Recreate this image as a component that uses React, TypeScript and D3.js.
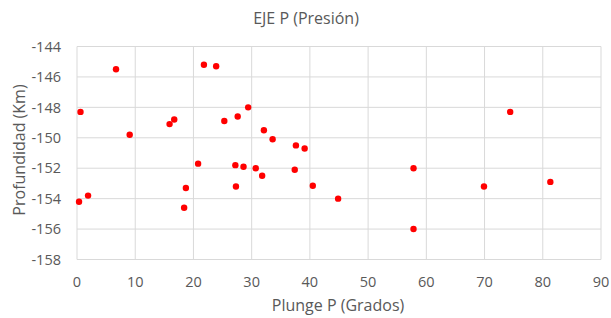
import React from "react";
import * as d3 from "d3";

const plunge = [0.6, 6.7, 9.05, 15.9, 16.7, 21.8, 23.9, 25.3, 27.6, 29.4, 32.1, 33.6, 37.6, 39.1, 74.4,
  0.35, 1.9, 18.4, 18.7, 20.8, 27.2, 27.3, 28.6, 30.7, 31.8, 37.4, 40.5, 44.85, 57.8, 57.8, 69.9, 81.3];
const depth = [-148.3, -145.5, -149.8, -149.1, -148.8, -145.2, -145.3, -148.9, -148.6, -148.0, -149.5, -150.1, -150.5, -150.7, -148.3,
  -154.2, -153.8, -154.6, -153.3, -151.7, -151.8, -153.2, -151.9, -152.0, -152.5, -152.1, -153.15, -154.0, -152.0, -156.0, -153.2, -152.9];
const xTicks = [0, 10, 20, 30, 40, 50, 60, 70, 80, 90];
const yTicks = [-144, -146, -148, -150, -152, -154, -156, -158];

const W = 611, H = 318;
const left = 77, right = 601, top = 46.5, bottom = 259.5;
const font = "'Open Sans', sans-serif";
const grey = "#595959";

export default function App() {
  const x = d3.scaleLinear().domain([0, 90]).range([left, right]);
  const y = d3.scaleLinear().domain([-158, -144]).range([bottom, top]);
  return (
    <svg width={W} height={H} style={{ position: "absolute", left: 0, top: 0, background: "#fff" }}>
      <rect width={W} height={H} fill="#fff" />
      {yTicks.map((t) => (
        <line key={"gy" + t} x1={left} x2={right} y1={y(t)} y2={y(t)} stroke="#d9d9d9" strokeWidth={1} />
      ))}
      {xTicks.map((t) => (
        <line key={"gx" + t} x1={x(t)} x2={x(t)} y1={top} y2={bottom} stroke="#d9d9d9" strokeWidth={1} />
      ))}
      {yTicks.map((t) => (
        <text key={"ty" + t} x={61} y={y(t)} dy="0.36em" textAnchor="end" fontFamily={font} fontSize={14.5} fill={grey}>
          {t}
        </text>
      ))}
      {xTicks.map((t) => (
        <text key={"tx" + t} x={x(t)} y={287} textAnchor="middle" fontFamily={font} fontSize={14.5} fill={grey}>
          {t}
        </text>
      ))}
      {plunge.map((p, i) => (
        <circle key={i} cx={x(p)} cy={y(depth[i])} r={3.2} fill="#ff0000" />
      ))}
      <text x={306} y={24} textAnchor="middle" fontFamily={font} fontSize={16} fill={grey}>
        EJE P (Presión)
      </text>
      <text x={338} y={311} textAnchor="middle" fontFamily={font} fontSize={16} fill={grey}>
        Plunge P (Grados)
      </text>
      <text transform={`translate(25,150) rotate(-90)`} textAnchor="middle" fontFamily={font} fontSize={16} fill={grey}>
        Profundidad (Km)
      </text>
    </svg>
  );
}
